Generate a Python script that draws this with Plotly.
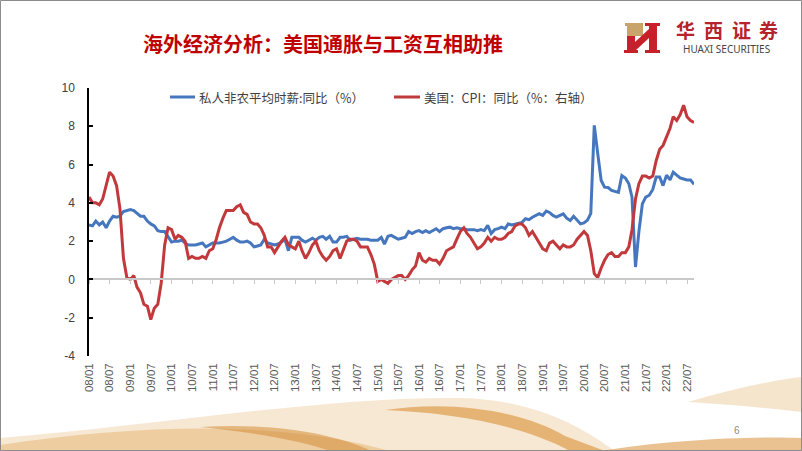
import pandas as pd
import plotly.graph_objects as go

# ---------------- data ----------------
months = pd.date_range("2008-01-01", "2022-09-01", freq="MS")

wage_yoy = [
    2.85, 2.8, 3.05, 2.85, 3.0, 2.7, 3.05, 3.3, 3.25, 3.3, 3.55, 3.6,      # 2008
    3.65, 3.6, 3.45, 3.3, 3.3, 3.05, 2.9, 2.8, 2.55, 2.5, 2.5, 2.25,       # 2009
    1.95, 2.0, 2.0, 2.05, 1.9, 1.8, 1.8, 1.8, 1.85, 1.9, 1.7, 1.8,         # 2010
    1.9, 1.9, 1.9, 1.95, 2.0, 2.1, 2.2, 2.05, 1.95, 1.95, 2.0, 1.9,        # 2011
    1.7, 1.75, 1.8, 2.1, 1.9, 1.85, 1.8, 1.85, 1.95, 2.1, 1.5, 2.2,        # 2012
    2.2, 2.2, 2.05, 1.95, 2.05, 2.15, 2.05, 2.2, 2.25, 2.1, 2.25, 1.95,    # 2013
    1.95, 2.2, 2.2, 2.25, 2.05, 2.1, 2.15, 2.1, 2.1, 2.1, 2.05, 2.05,     # 2014
    2.05, 2.2, 1.85, 2.25, 2.3, 2.2, 2.1, 2.15, 2.2, 2.5, 2.4, 2.5,        # 2015
    2.55, 2.45, 2.55, 2.45, 2.55, 2.65, 2.5, 2.65, 2.7, 2.73, 2.65, 2.7,   # 2016
    2.65, 2.65, 2.6, 2.6, 2.6, 2.55, 2.6, 2.55, 2.82, 2.4, 2.6, 2.65,      # 2017
    2.73, 2.65, 2.9, 2.85, 2.9, 2.93, 2.98, 3.17, 3.12, 3.25, 3.34, 3.43,  # 2018
    3.35, 3.57, 3.5, 3.34, 3.26, 3.35, 3.43, 3.2, 3.08, 3.3, 3.1, 2.9,     # 2019
    2.95, 3.1, 3.45, 8.05, 6.6, 5.17, 4.82, 4.8, 4.65, 4.6, 4.55, 5.43,    # 2020
    5.3, 5.0, 4.3, 0.65, 2.5, 3.95, 4.3, 4.4, 4.7, 5.35, 5.35, 4.9,        # 2021
    5.45, 5.2, 5.6, 5.45, 5.3, 5.25, 5.2, 5.2, 4.97,                       # 2022
]

cpi_yoy = [
    4.3, 4.0, 4.0, 3.9, 4.2, 5.0, 5.6, 5.4, 4.9, 3.7, 1.1, 0.1,            # 2008
    0.0, 0.2, -0.4, -0.7, -1.3, -1.4, -2.1, -1.5, -1.3, -0.2, 1.8, 2.7,    # 2009
    2.6, 2.1, 2.3, 2.2, 2.0, 1.1, 1.2, 1.1, 1.1, 1.2, 1.1, 1.5,            # 2010
    1.6, 2.1, 2.7, 3.2, 3.6, 3.6, 3.6, 3.8, 3.9, 3.5, 3.4, 3.0,            # 2011
    2.9, 2.9, 2.7, 2.3, 1.7, 1.7, 1.4, 1.7, 2.0, 2.2, 1.8, 1.7,            # 2012
    1.6, 2.0, 1.5, 1.1, 1.4, 1.8, 2.0, 1.5, 1.2, 1.0, 1.2, 1.5,            # 2013
    1.6, 1.1, 1.5, 2.0, 2.1, 2.1, 2.0, 1.7, 1.7, 1.7, 1.3, 0.8,            # 2014
    -0.1, 0.0, -0.1, -0.2, 0.0, 0.1, 0.2, 0.2, 0.0, 0.2, 0.5, 0.7,         # 2015
    1.4, 1.0, 0.9, 1.1, 1.0, 1.0, 0.8, 1.1, 1.5, 1.6, 1.7, 2.1,            # 2016
    2.5, 2.7, 2.4, 2.2, 1.9, 1.6, 1.7, 1.9, 2.2, 2.0, 2.2, 2.1,            # 2017
    2.1, 2.2, 2.4, 2.5, 2.8, 2.9, 2.9, 2.7, 2.3, 2.5, 2.2, 1.9,            # 2018
    1.6, 1.5, 1.9, 2.0, 1.8, 1.6, 1.8, 1.7, 1.7, 1.8, 2.1, 2.3,            # 2019
    2.5, 2.3, 1.5, 0.3, 0.1, 0.6, 1.0, 1.3, 1.4, 1.2, 1.2, 1.4,            # 2020
    1.4, 1.7, 2.6, 4.2, 5.0, 5.4, 5.4, 5.3, 5.4, 6.2, 6.8, 7.0,            # 2021
    7.5, 7.9, 8.5, 8.3, 8.6, 9.1, 8.5, 8.3, 8.2,                           # 2022
]

tick_dates = pd.date_range("2008-01-01", "2022-07-01", freq="6MS")
tick_labels = [d.strftime("%y/%m") for d in tick_dates]
y_ticks = [-4, -2, 0, 2, 4, 6, 8, 10]
y_tick_labels = ["-4", "-2", "0", "2", "4", "6", "8", "10"]

series_names = ["私人非农平均时薪:同比（%）", "美国：CPI：同比（%：右轴）"]
title_text = "海外经济分析：美国通胀与工资互相助推"

BLUE = "#4677BE"
RED = "#C2393C"
CJK = "Noto Sans CJK SC"

# ---------------- geometry helpers (pixel -> paper) ----------------
L, R, T, B = 89, 694, 88, 356
W, H = 802, 451


def px(x):
    return (x - L) / (R - L)


def py(y):
    return (B - y) / (B - T)


def path(points, close=True):
    s = "M" + " L".join(f"{px(x):.4f},{py(y):.4f}" for x, y in points)
    return s + (" Z" if close else "")


def cpath(cmds):
    out = []
    for c in cmds:
        op, pts = c[0], c[1:]
        out.append(op + " ".join(f"{px(x):.4f},{py(y):.4f}" for x, y in pts))
    return " ".join(out) + " Z"


x_range = [months[0], months[-1]]

fig = go.Figure()
fig.add_trace(go.Scatter(x=months, y=wage_yoy, mode="lines", name=series_names[0],
                         line=dict(color=BLUE, width=3), showlegend=False,
                         xaxis="x", yaxis="y"))
fig.add_trace(go.Scatter(x=months, y=cpi_yoy, mode="lines", name=series_names[1],
                         line=dict(color=RED, width=3), showlegend=False,
                         xaxis="x2", yaxis="y"))

shapes = []
# page decorations (waves)
shapes.append(dict(type="path", xref="paper", yref="paper", layer="below",
                   path=cpath([("M", (0, 451)), ("L", (0, 438)),
                               ("C", (150, 426), (330, 396), (460, 398)),
                               ("C", (540, 400), (585, 430), (615, 451))]),
                   fillcolor="rgba(240,210,168,0.50)", line=dict(width=0)))
shapes.append(dict(type="path", xref="paper", yref="paper", layer="below",
                   path=cpath([("M", (0, 451)), ("L", (0, 445)),
                               ("C", (80, 433), (160, 427), (230, 429)),
                               ("C", (300, 431), (350, 440), (390, 451))]),
                   fillcolor="rgba(226,172,100,0.45)", line=dict(width=0)))
shapes.append(dict(type="path", xref="paper", yref="paper", layer="below",
                   path=cpath([("M", (200, 427)), ("C", (270, 423), (330, 432), (372, 451)),
                               ("L", (330, 451)), ("C", (300, 440), (250, 432), (200, 427))]),
                   fillcolor="rgba(212,142,56,0.55)", line=dict(width=0)))
shapes.append(dict(type="path", xref="paper", yref="paper", layer="below",
                   path=cpath([("M", (385, 410)), ("C", (450, 400), (520, 410), (565, 436)),
                               ("L", (605, 451)), ("L", (570, 451)),
                               ("C", (525, 427), (460, 413), (385, 410))]),
                   fillcolor="rgba(216,144,52,0.60)", line=dict(width=0)))
shapes.append(dict(type="path", xref="paper", yref="paper", layer="below",
                   path=cpath([("M", (600, 451)), ("C", (670, 440), (750, 436), (802, 438)),
                               ("L", (802, 451))]),
                   fillcolor="rgba(220,154,74,0.60)", line=dict(width=0)))
shapes.append(dict(type="path", xref="paper", yref="paper", layer="below",
                   path=cpath([("M", (688, 402)), ("C", (735, 388), (775, 380), (802, 377)),
                               ("L", (802, 412)), ("C", (760, 407), (720, 404), (688, 402))]),
                   fillcolor="rgba(236,203,156,0.50)", line=dict(width=0)))

# logo icon
shapes.append(dict(type="path", xref="paper", yref="paper",
                   path=path([(625, 23), (643, 23), (643, 36), (627, 36), (627, 26), (625, 26)]),
                   fillcolor="#C9A46A", line=dict(width=0)))
shapes.append(dict(type="path", xref="paper", yref="paper",
                   path=path([(627, 36), (635, 36), (635, 50), (638, 50), (638, 53),
                              (624, 53), (624, 50), (627, 50)]),
                   fillcolor="#C8202A", line=dict(width=0)))
shapes.append(dict(type="path", xref="paper", yref="paper",
                   path=path([(635, 42), (649, 29), (649, 38), (635, 51)]),
                   fillcolor="#C8202A", line=dict(width=0)))
shapes.append(dict(type="path", xref="paper", yref="paper",
                   path=path([(645, 23), (660, 23), (660, 26), (657, 26), (657, 50),
                              (660, 50), (660, 53), (645, 53), (645, 50), (649, 50),
                              (649, 26), (645, 26)]),
                   fillcolor="#C8202A", line=dict(width=0)))

# legend samples
shapes.append(dict(type="line", xref="paper", yref="paper",
                   x0=px(170), x1=px(195), y0=py(97), y1=py(97),
                   line=dict(color=BLUE, width=3)))
shapes.append(dict(type="line", xref="paper", yref="paper",
                   x0=px(394), x1=px(420), y0=py(97), y1=py(97),
                   line=dict(color=RED, width=3)))

# slide border
shapes.append(dict(type="rect", xref="paper", yref="paper",
                   x0=px(0.5), x1=px(801.5), y0=py(0.5), y1=py(450.5),
                   line=dict(color="#8C8C8C", width=1)))

annotations = [
    dict(text="<b>" + title_text + "</b>", x=px(141), y=py(44), xref="paper", yref="paper",
         xanchor="left", yanchor="middle", showarrow=False,
         font=dict(family=CJK, size=20, color="#C00000")),
    dict(text=series_names[0], x=px(197), y=py(97), xref="paper", yref="paper",
         xanchor="left", yanchor="middle", showarrow=False,
         font=dict(family=CJK, size=12.5, color="#404040")),
    dict(text=series_names[1], x=px(422), y=py(97), xref="paper", yref="paper",
         xanchor="left", yanchor="middle", showarrow=False,
         font=dict(family=CJK, size=12.5, color="#404040")),
    dict(text="HUAXI SECURITIES", x=px(727), y=py(48.5), xref="paper", yref="paper",
         xanchor="center", yanchor="middle", showarrow=False,
         font=dict(family="Noto Sans", size=10, color="#444444")),
    dict(text="6", x=px(737), y=py(430), xref="paper", yref="paper",
         xanchor="center", yanchor="middle", showarrow=False,
         font=dict(family="Liberation Sans", size=10, color="#8C8C8C")),
]
for ch, cx in zip("华西证券", [685.5, 713.5, 741.5, 768.5]):
    annotations.append(dict(text="<b>" + ch + "</b>", x=px(cx), y=py(29.5), xref="paper", yref="paper",
                            xanchor="center", yanchor="middle", showarrow=False,
                            font=dict(family=CJK, size=19, color="#B5232C")))

fig.update_layout(
    width=W, height=H,
    margin=dict(l=L, r=W - R, t=T, b=H - B, pad=0),
    paper_bgcolor="white", plot_bgcolor="white",
    showlegend=False,
    shapes=shapes, annotations=annotations,
    xaxis=dict(type="date", range=x_range, tickvals=list(tick_dates), ticktext=tick_labels,
               tickangle=-90, showgrid=False, zeroline=False, showline=False, ticks="",
               tickfont=dict(family="Liberation Sans", size=11.5, color="#595959"),
               ticklabelstandoff=4),
    xaxis2=dict(type="date", range=x_range, overlaying="x", anchor="free", position=4 / 14,
                side="bottom", tickvals=list(tick_dates), showticklabels=False,
                showgrid=False, zeroline=False, showline=True, linecolor="#C8C8C8",
                linewidth=1.5, ticks="outside", ticklen=4, tickcolor="#C8C8C8", tickwidth=1),
    yaxis=dict(range=[-4, 10], tickvals=y_ticks, ticktext=y_tick_labels, showgrid=False,
               zeroline=False, showline=True, linecolor="black", linewidth=1.5,
               ticks="inside", ticklen=4, tickcolor="black", tickwidth=1.5,
               tickfont=dict(family="Liberation Sans", size=12, color="#404040"),
               ticklabelstandoff=10),
)

fig.write_html("out.html", config={"displayModeBar": False},
               post_script="document.body.style.margin='0px';document.body.style.padding='0px';")
